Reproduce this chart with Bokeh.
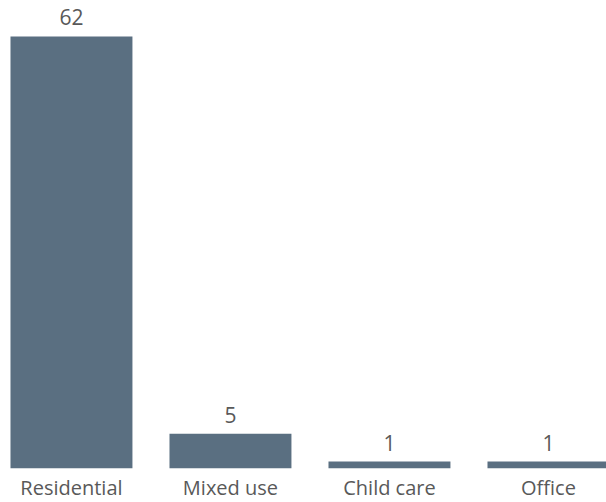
from bokeh.plotting import figure
from bokeh.models import Range1d, FixedTicker, ColumnDataSource
from bokeh.embed import file_html
from bokeh.resources import INLINE
from bokeh.core.properties import value

categories = ["Residential", "Mixed use", "Child care", "Office"]
counts = [62, 5, 1, 1]
positions = [0, 1, 2, 3]

src = ColumnDataSource(dict(x=positions, top=counts, label=[str(c) for c in counts]))

p = figure(frame_width=598, frame_height=460, output_backend="svg", toolbar_location=None,
           x_range=Range1d(-0.396, 3.365), y_range=Range1d(0, 66),
           min_border_left=8, min_border_right=0, min_border_top=8, min_border_bottom=0)
p.outline_line_color = None
p.grid.visible = False
p.yaxis.visible = False
p.background_fill_color = "white"

p.vbar(x="x", top="top", width=0.767, bottom=0, source=src, color="#5A6F81", line_color=None)
p.text(x="x", y="top", text="label", source=src, text_align="center", text_baseline="bottom",
       y_offset=-11, text_font=value("Open Sans"), text_font_size="21px", text_color="#595959")

ax = p.xaxis[0]
ax.ticker = FixedTicker(ticks=positions)
ax.major_label_overrides = {i: c for i, c in zip(positions, categories)}
ax.axis_line_color = None
ax.major_tick_line_color = None
ax.major_tick_out = 0
ax.major_tick_in = 0
ax.minor_tick_line_color = None
ax.minor_tick_out = 0
ax.major_label_text_font = "Open Sans"
ax.major_label_text_font_size = "20px"
ax.major_label_text_color = "#595959"
ax.major_label_standoff = 5

open("out.html", "w").write(file_html(p, INLINE))
